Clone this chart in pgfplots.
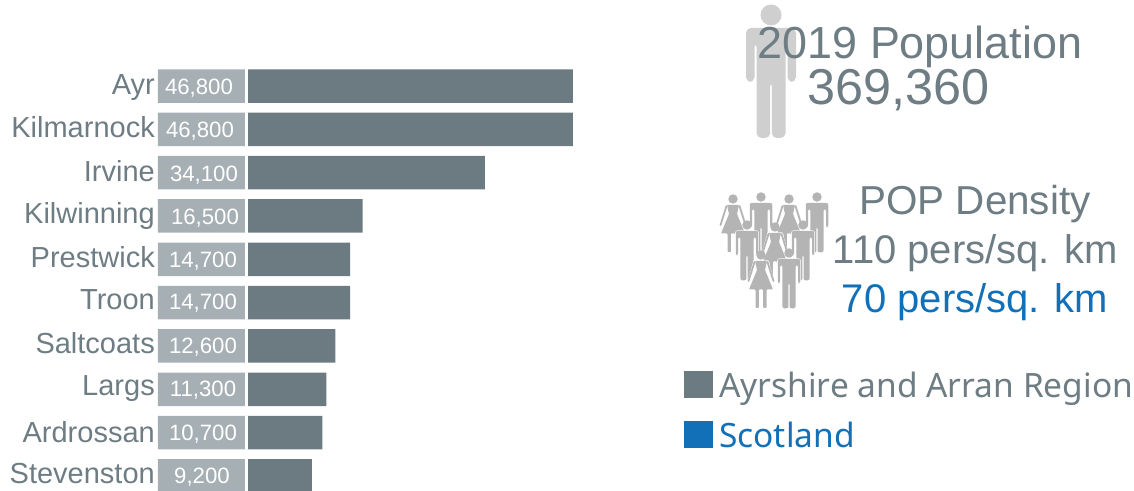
\documentclass[border=0pt]{standalone}
\usepackage{fontspec}
\setmainfont{Liberation Sans}
\newfontfamily\legendfont{Noto Sans}
\usepackage{pgfplots}
\usepackage{pgfplotstable}
\pgfplotsset{compat=1.18}

\definecolor{slate}{HTML}{6E7D84}
\definecolor{barslate}{HTML}{6C7B82}
\definecolor{slatelight}{HTML}{A6AFB4}
\definecolor{scotblue}{HTML}{1170B8}
\definecolor{bigfigure}{HTML}{CFCFCF}
\definecolor{smallfigure}{HTML}{B4B4B4}

% town, row, population, printed figure, cell edge, white strip,
% printed figure position and baseline row, town name position and baseline row
\pgfplotstableread{
town       row  pop    label   cell    strip  mid    midy   name    namey
Ayr        0    46800  46,800  -12960  -430   -7056  0.185  -13393  0.185
Kilmarnock 1    46800  46,800  -12960  -430   -6912  1.177  -13393  1.177
Irvine     2    34100  34,100  -12960  -430   -6336  2.192  -13393  2.192
Kilwinning 3    16500  16,500  -12960  -430   -6192  3.185  -13393  3.162
Prestwick  4    14700  14,700  -12960  -430   -6480  4.177  -13393  4.177
Troon      5    14700  14,700  -12960  -430   -6480  5.147  -13393  5.147
Saltcoats  6    12600  12,600  -12960  -430   -6480  6.162  -13393  6.162
Largs      7    11300  11,300  -12960  -430   -6480  7.154  -13393  7.131
Ardrossan  8    10700  10,700  -12960  -430   -6480  8.170  -13393  8.216
Stevenston 9    9200   9,200   -12960  -430   -6624  9.162  -13393  9.162
}\towns

% pictograms, drawn about the centre of the head
\newcommand{\man}[4]{% x, y, scale, colour
  \begin{scope}[shift={(#1,#2)},scale=#3]
    \fill[#4,rounded corners=#3*5pt]
      (-25,13) -- (25,13) -- (25,67) -- (16.5,67) -- (16.5,27) -- (14.5,27)
      -- (14.5,123) -- (0.8,123) -- (0.8,66) -- (-0.8,66) -- (-0.8,123)
      -- (-14.5,123) -- (-14.5,27) -- (-16.5,27) -- (-16.5,67) -- (-25,67) -- cycle;
    \fill[#4] (0,0) circle (10.5);
  \end{scope}}
\newcommand{\smallman}[2]{% x, y
  \begin{scope}[shift={(#1,#2)},scale=0.45]
    \draw[white,line width=1.1pt,fill=white,rounded corners=2pt]
      (-25,13) -- (25,13) -- (25,67) -- (14.5,67) -- (14.5,123) -- (-14.5,123)
      -- (-14.5,67) -- (-25,67) -- cycle;
    \fill[smallfigure,rounded corners=2pt]
      (-25,13) -- (25,13) -- (25,67) -- (20,67) -- (20,27) -- (14.5,27)
      -- (14.5,123) -- (1.2,123) -- (1.2,66) -- (-1.2,66) -- (-1.2,123)
      -- (-14.5,123) -- (-14.5,27) -- (-20,27) -- (-20,67) -- (-25,67) -- cycle;
    \fill[smallfigure] (0,0) circle (10.5);
  \end{scope}}
\newcommand{\smallwoman}[2]{% x, y
  \begin{scope}[shift={(#1,#2)}]
    \draw[white,line width=1.2pt,fill=white,line join=round]
      (-7,6) -- (7,6) -- (13,27) -- (12,35) -- (5.5,35) -- (5.5,54) -- (-5.5,54) -- (-5.5,35) -- (-12,35) -- (-13,27) -- cycle;
    \fill[smallfigure,rounded corners=0.8pt]
      (-6,6) -- (6,6) -- (4,15) -- (12,34.5) -- (5.5,34.5) -- (5.5,53) -- (2.2,53)
      -- (2.2,34.5) -- (-2.2,34.5) -- (-2.2,53) -- (-5.5,53) -- (-5.5,34.5)
      -- (-12,34.5) -- (-4,15) -- cycle;
    \draw[smallfigure,line width=1.8pt,line cap=round] (-6.5,7) -- (-12.5,26);
    \draw[smallfigure,line width=1.8pt,line cap=round] (6.5,7) -- (12.5,26);
    \fill[smallfigure] (0,0) circle (4.7);
  \end{scope}}

\begin{document}
\begin{tikzpicture}[x=1pt,y=1pt]
\useasboundingbox (0,0) rectangle (1134,490);
\begin{axis}[
  at={(0pt,0pt)}, anchor=south west,
  scale only axis, width=1134pt, height=490pt,
  hide axis, y dir=reverse,
  xmin=-35712, xmax=127590,
  ymin=-1.985, ymax=9.324,
]
  % population bars
  \addplot[xbar,bar width=33.5pt,bar shift=0pt,fill=barslate,draw=none]
    table[x=pop,y=row]{\towns};
  % cells behind the printed figures
  \addplot[xbar,bar width=33.5pt,bar shift=0pt,fill=slatelight,draw=none]
    table[x=cell,y=row]{\towns};
  % white strip between cell and bar
  \addplot[xbar,bar width=34pt,bar shift=0pt,fill=white,draw=none]
    table[x=strip,y=row]{\towns};
  % printed figures
  \addplot[draw=none,mark=none,point meta=explicit symbolic,
    nodes near coords,
    every node near coord/.append style={anchor=base,inner sep=0pt,text=white,yshift=-0.8pt,
      font=\fontsize{22.2}{24}\selectfont}]
    table[x=mid,y=midy,meta=label]{\towns};
  % town names
  \addplot[draw=none,mark=none,point meta=explicit symbolic,
    nodes near coords,
    every node near coord/.append style={anchor=base east,inner sep=0pt,text=slate,yshift=-0.8pt,
      font=\fontsize{29}{30}\selectfont}]
    table[x=name,y=namey,meta=town]{\towns};
\end{axis}

% everything below is laid out from the top left corner
\begin{scope}[shift={(0,490)},y=-1pt]
  \man{771}{15}{1}{bigfigure}

  \smallwoman{733}{199}
  \smallman{761}{197}
  \smallwoman{789}{199}
  \smallman{817}{197}
  \smallman{747}{225}
  \smallwoman{775}{227}
  \smallman{803}{225}
  \smallwoman{761}{255}
  \smallman{789}{253}

  \node[anchor=base,text=slate,font=\fontsize{44.9}{46}\selectfont,inner sep=0pt] at (920,58.5) {2019 Population};
  \node[anchor=base,text=slate,font=\fontsize{50.4}{52}\selectfont,inner sep=0pt] at (898.5,105) {369,360};
  \node[anchor=base,text=slate,font=\fontsize{40.4}{42}\selectfont,inner sep=0pt] at (975,215) {POP Density};
  \node[anchor=base,text=slate,font=\fontsize{40}{42}\selectfont,inner sep=0pt] at (975.5,264) {110 pers/sq. km};
  \node[anchor=base,text=scotblue,font=\fontsize{40}{42}\selectfont,inner sep=0pt] at (975,313) {70 pers/sq. km};

  \fill[barslate] (683.5,370.7) rectangle (712.7,398);
  \fill[scotblue] (683.5,421) rectangle (712.7,448);
  \node[anchor=base west,text=slate,font=\legendfont\fontsize{33.5}{34}\selectfont,inner sep=0pt] at (719,397.5) {Ayrshire and Arran Region};
  \node[anchor=base west,text=scotblue,font=\legendfont\fontsize{33.5}{34}\selectfont,inner sep=0pt] at (719,447) {Scotland};
\end{scope}
\end{tikzpicture}
\end{document}
